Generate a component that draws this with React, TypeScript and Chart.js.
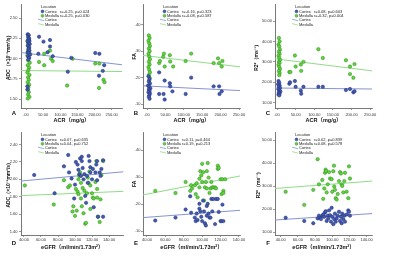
import React, { useEffect, useRef } from "react";
import { Chart, registerables } from "chart.js";
Chart.register(...registerables);

type P = [number, number];

// ---------- tick values ----------
const acrTicks = [0, 50, 100, 150, 200, 250];
const egfrTicks = [40, 60, 80, 100, 120, 140];
const adcTicksA = [1.5, 1.75, 2.0, 2.25, 2.5];
const adcTicksD = [1.4, 1.6, 1.8, 2.0, 2.2, 2.4];
const faTicks = [0.1, 0.2, 0.3, 0.4];
const r2Ticks = [10, 20, 30, 40, 50];

// ---------- labels ----------
const legendTitle = "Location";
const locations = ["Cortex", "Medulla"];
const panelLetters = ["A", "B", "C", "D", "E", "F"];
const xTitleAcr = "ACR（mg/g）";
const xTitleEgfr = "eGFR（ml/min/1.73m²）";
const yTitleAdc = "ADC（×10⁻³mm²/s）";
const yTitleFa = "FA";
const yTitleR2 = "R2*（ms⁻¹）";
const statsA = ["r=-0.25, p=0.024", "r=-0.25, p=0.030"];
const statsB = ["r=-0.16, p=0.323", "r=-0.08, p=0.587"];
const statsC = ["r=0.08, p=0.603", "r=-0.32, p=0.004"];
const statsD = ["r=0.07, p=0.635", "r=0.04, p=0.752"];
const statsE = ["r=0.11, p=0.464", "r=0.19, p=0.213"];
const statsF = ["r=0.02, p=0.839", "r=0.08, p=0.578"];

// ---------- axis domains ----------
const xDomA = [-14.6, 280];
const yDomA = [1.393, 2.667];
const xDomB = [-10.9, 252.7];
const yDomB = [0.085, 0.477];
const xDomC = [-5.4, 255];
const yDomC = [7.4, 58.1];
const xDomD = [36.5, 157];
const yDomD = [1.36, 2.539];
const xDomE = [35.7, 141.1];
const yDomE = [0.0856, 0.465];
const xDomF = [33.4, 146.2];
const yDomF = [8.8, 53.3];

// ---------- fit lines (y at left / right end of x domain) ----------
const fitCortexA = [2.075, 1.925];
const fitMedullaA = [1.854, 1.842];
const fitCortexB = [0.169, 0.151];
const fitMedullaB = [0.284, 0.241];
const fitCortexC = [17.2, 16.7];
const fitMedullaC = [31.5, 25.6];
const fitCortexD = [1.981, 2.087];
const fitMedullaD = [1.813, 1.862];
const fitCortexE = [0.150, 0.177];
const fitMedullaE = [0.234, 0.304];
const fitCortexF = [15.3, 18.1];
const fitMedullaF = [29.0, 32.2];

// ---------- points ----------
const cortexA: P[] = [[5,2.30],[8,2.29],[6,2.27],[9,2.25],[7,2.24],[10,2.22],[5,2.21],[8,2.19],[11,2.18],[6,2.16],[9,2.14],[7,2.12],[10,2.10],[5,2.08],[8,2.07],[12,2.05],[6,2.03],[9,2.01],[7,1.99],[4,1.66],[5,1.62],[38,2.27],[51,2.21],[70,2.23],[70,2.15],[63,2.08],[36,2.06],[78,2.03],[132,2.01],[122,1.84],[202,2.07],[214,2.06],[228,1.92],[224,1.85],[213,1.79]];
const medullaA: P[] = [[4,2.22],[7,2.19],[5,2.16],[9,2.13],[6,2.10],[10,2.07],[4,2.04],[8,2.01],[6,1.98],[11,1.95],[5,1.92],[9,1.89],[7,1.86],[4,1.83],[10,1.80],[6,1.77],[8,1.74],[5,1.71],[9,1.68],[7,1.65],[4,1.62],[8,1.59],[6,1.56],[10,1.53],[5,1.51],[38,1.96],[53,2.06],[70,2.10],[73,2.00],[78,1.97],[53,1.92],[136,2.00],[120,1.67],[202,1.94],[214,1.94],[226,1.74],[229,1.71],[213,1.64]];
const cortexB: P[] = [[4,0.205],[7,0.195],[5,0.185],[8,0.178],[3,0.17],[6,0.165],[9,0.16],[5,0.155],[7,0.15],[4,0.145],[8,0.14],[6,0.133],[5,0.127],[7,0.12],[33,0.22],[48,0.189],[62,0.179],[63,0.167],[69,0.148],[33,0.138],[45,0.138],[48,0.117],[105,0.138],[120,0.20],[181,0.167],[196,0.167],[197,0.138],[203,0.148]];
const medullaB: P[] = [[5,0.36],[7,0.35],[4,0.34],[6,0.33],[8,0.32],[5,0.31],[7,0.30],[4,0.29],[6,0.28],[8,0.27],[5,0.26],[7,0.25],[4,0.24],[6,0.23],[8,0.22],[5,0.21],[7,0.20],[6,0.19],[33,0.255],[35,0.263],[44,0.279],[46,0.291],[48,0.242],[62,0.285],[63,0.261],[71,0.242],[105,0.263],[120,0.291],[181,0.255],[193,0.273],[196,0.255],[203,0.242],[205,0.263]];
const cortexC: P[] = [[4,20.6],[6,19.8],[3,19.0],[7,18.4],[5,17.8],[8,17.2],[4,16.6],[6,16.0],[9,15.5],[5,15.0],[7,14.5],[4,14.0],[6,13.6],[33,19.3],[35,20.0],[48,20.6],[50,17.8],[64,15.9],[65,14.4],[71,17.8],[111,17.8],[123,17.8],[185,16.2],[196,16.7],[205,15.1],[208,15.6]];
const medullaC: P[] = [[5,41.7],[7,40.0],[4,38.5],[6,37.5],[8,36.0],[5,35.0],[7,34.0],[4,33.0],[6,32.0],[8,31.0],[5,30.0],[7,29.5],[4,28.5],[6,27.5],[8,26.5],[5,25.5],[7,24.5],[6,23.5],[33,25.0],[36,25.0],[48,33.1],[50,27.7],[64,28.7],[65,25.6],[71,30.0],[111,36.2],[123,31.9],[185,30.8],[196,27.7],[196,24.0],[208,28.9],[205,22.2]];
const cortexD: P[] = [[52,2.05],[76,1.84],[87,2.15],[92,2.28],[93,2.08],[96,2.01],[99,1.78],[100,1.94],[101,2.20],[103,2.17],[104,2.11],[105,2.06],[106,2.24],[107,2.04],[108,2.26],[108,2.21],[109,2.13],[110,2.00],[111,2.06],[112,1.81],[113,1.73],[114,2.04],[115,1.96],[116,2.27],[117,2.21],[118,2.14],[118,2.08],[120,2.00],[121,2.12],[122,1.68],[124,2.08],[125,2.17],[126,1.99],[126,2.21],[127,1.57],[129,2.08],[130,2.04],[131,2.12],[133,2.22],[133,1.57]];
const medullaD: P[] = [[41,1.93],[75,1.71],[87,1.99],[92,1.91],[94,1.93],[97,1.63],[98,1.69],[100,1.58],[101,1.89],[102,1.64],[103,1.86],[104,2.00],[104,1.83],[105,2.04],[106,2.08],[107,1.96],[107,1.78],[108,1.69],[109,1.90],[110,1.61],[111,1.87],[112,1.49],[113,1.50],[114,1.84],[115,2.02],[116,1.96],[117,2.09],[118,1.93],[118,1.66],[120,1.84],[121,1.79],[122,1.78],[124,1.97],[125,2.21],[126,1.89],[126,1.79],[127,1.57],[129,1.51],[130,1.77],[131,2.05],[133,2.21]];
const cortexE: P[] = [[49,0.139],[71,0.150],[82,0.180],[87,0.229],[88,0.168],[92,0.150],[93,0.137],[94,0.165],[95,0.141],[97,0.183],[97,0.201],[98,0.173],[99,0.153],[100,0.137],[101,0.213],[102,0.173],[103,0.129],[104,0.121],[105,0.157],[105,0.193],[106,0.201],[107,0.165],[108,0.150],[109,0.150],[110,0.219],[111,0.173],[112,0.219],[114,0.126],[115,0.219],[117,0.219],[118,0.171],[120,0.137],[121,0.137],[122,0.198],[123,0.137]];
const medullaE: P[] = [[49,0.249],[71,0.241],[82,0.282],[87,0.249],[88,0.270],[89,0.258],[92,0.270],[93,0.237],[94,0.277],[95,0.225],[97,0.294],[97,0.262],[98,0.322],[99,0.306],[100,0.282],[100,0.349],[101,0.318],[102,0.213],[103,0.262],[104,0.282],[105,0.258],[105,0.322],[106,0.352],[107,0.298],[108,0.241],[109,0.258],[110,0.282],[111,0.262],[112,0.262],[114,0.262],[115,0.258],[117,0.342],[117,0.330],[118,0.334],[120,0.292],[121,0.237],[122,0.292],[123,0.249],[123,0.241],[125,0.292]];
const cortexF: P[] = [[45.8,16.3],[67.4,14.9],[77.9,13.9],[83.0,16.0],[84.5,17.2],[85.7,16.3],[86.9,15.7],[88.4,17.2],[89.5,17.7],[90.7,16.7],[91.5,18.6],[92.3,19.1],[93.5,14.9],[94.7,17.2],[95.4,16.0],[96.3,19.5],[97.4,17.4],[98.5,14.6],[99.3,20.6],[100,16.7],[101.2,13.5],[102.3,15.7],[103.1,18.1],[104,14.6],[105.1,16.0],[106.3,17.2],[107.8,18.9],[109,14.9],[110.1,16.7],[110.9,13.9],[111.6,18.1],[112.8,15.7],[114,17.2],[114.8,14.6],[116.7,17.7],[118.6,19.5],[119.4,18.9],[120.6,17.2]];
const medullaF: P[] = [[45.8,27.6],[67.4,21.9],[77.9,28.4],[83.0,41.7],[84.5,30.8],[88.4,32.7],[89.5,24.5],[90.7,29.0],[91.5,35.8],[92.3,37.2],[92.7,36.5],[93.5,27.3],[94.7,30.8],[96.3,36.1],[97.4,33.3],[99.3,33.0],[100,27.6],[101.2,36.5],[102,38.9],[102.3,29.9],[103.1,28.4],[104,24.8],[105.1,24.2],[106.3,26.6],[107.8,32.2],[109,36.1],[110.1,35.5],[110.9,30.8],[111.6,30.1],[112.8,27.3],[114,32.2],[114.8,35.8],[116.7,27.6],[118.6,24.8],[119.4,38.6],[120.6,33.3]];

// ---------- styles ----------
const FONT = "'Liberation Sans', Arial, 'Noto Sans CJK SC', sans-serif";
const BLUE = "#4459b0";
const BLUE_EDGE = "#1f2f78";
const GREEN = "#5fd43c";
const GREEN_EDGE = "#2c8a1c";
const BLUE_LINE = "#8494d4";
const GREEN_LINE = "#8fdc86";
const AXIS = "#555";

const fmt = (v: number) => {
  const s = v.toFixed(2);
  return s.startsWith("0.") ? s.slice(1) : s;
};

const decorPlugin = {
  id: "decor",
  afterDraw(chart: any, _a: any, opts: any) {
    const ctx = chart.ctx;
    const a = chart.chartArea;
    ctx.save();
    ctx.fillStyle = "#111";
    ctx.font = `bold 6px ${FONT}`;
    ctx.textAlign = "center";
    ctx.textBaseline = "middle";
    ctx.fillText(opts.letter, a.left - 7, a.bottom + opts.letterDy);

    const lx = a.left + 20;
    const ty = a.top + 2.5;
    const sp = 4.4;
    ctx.font = `4px ${FONT}`;
    ctx.textAlign = "left";
    ctx.fillStyle = "#222";
    ctx.fillText(legendTitle, lx, ty);
    const fills = [BLUE, GREEN];
    const edges = [BLUE_EDGE, GREEN_EDGE];
    const lines = [BLUE_LINE, GREEN_LINE];
    for (let i = 0; i < 2; i++) {
      const y = ty + sp * (i + 1);
      ctx.beginPath();
      ctx.arc(lx + 1.5, y, 1.4, 0, Math.PI * 2);
      ctx.fillStyle = fills[i];
      ctx.fill();
      ctx.lineWidth = 0.5;
      ctx.strokeStyle = edges[i];
      ctx.stroke();
      ctx.fillStyle = "#222";
      ctx.fillText(locations[i], lx + 4, y);
      ctx.fillText(opts.stats[i], lx + 19, y);
    }
    for (let i = 0; i < 2; i++) {
      const y = ty + sp * (i + 3);
      ctx.beginPath();
      ctx.moveTo(lx - 3, y - 1);
      ctx.lineTo(lx + 3, y + 0.5);
      ctx.lineWidth = 0.8;
      ctx.strokeStyle = lines[i];
      ctx.stroke();
      ctx.fillStyle = "#222";
      ctx.fillText(locations[i], lx + 4, y);
    }
    ctx.restore();
  },
};

type Cfg = {
  left: number; top: number; w: number; h: number;
  axisW: number; padRight: number; padTop: number; xAxisH: number;
  xDom: number[]; yDom: number[]; xTicks: number[]; yTicks: number[];
  xTitle: string; yTitle: string; yTitlePad: number; yTickPad: number;
  xTickPad: number; xTitlePad: number;
  cortex: P[]; medulla: P[]; fitC: number[]; fitM: number[];
  stats: string[]; letter: string; letterDy: number;
};

function Panel({ c }: { c: Cfg }) {
  const ref = useRef<HTMLCanvasElement>(null);
  useEffect(() => {
    if (!ref.current) return;
    const pts = (arr: P[]) => arr.map(([x, y]) => ({ x, y }));
    const fit = (f: number[]) => [
      { x: c.xDom[0], y: f[0] },
      { x: c.xDom[1], y: f[1] },
    ];
    const chart = new Chart(ref.current, {
      type: "scatter",
      data: {
        datasets: [
          { label: "fitC", data: fit(c.fitC), showLine: true, borderColor: BLUE_LINE, borderWidth: 1, pointRadius: 0, order: 3 },
          { label: "fitM", data: fit(c.fitM), showLine: true, borderColor: GREEN_LINE, borderWidth: 1, pointRadius: 0, order: 3 },
          { label: locations[1], data: pts(c.medulla), backgroundColor: GREEN, borderColor: GREEN_EDGE, borderWidth: 0.5, pointRadius: 1.7, order: 2 },
          { label: locations[0], data: pts(c.cortex), backgroundColor: BLUE, borderColor: BLUE_EDGE, borderWidth: 0.5, pointRadius: 1.7, order: 1 },
        ],
      },
      options: {
        responsive: false,
        animation: false,
        devicePixelRatio: 1,
        layout: { padding: { top: c.padTop, right: c.padRight, left: 0, bottom: 0 } },
        plugins: {
          legend: { display: false },
          tooltip: { enabled: false },
          // @ts-ignore
          decor: { letter: c.letter, letterDy: c.letterDy, stats: c.stats },
        },
        scales: {
          x: {
            type: "linear",
            min: c.xDom[0],
            max: c.xDom[1],
            afterBuildTicks: (s: any) => { s.ticks = c.xTicks.map((v) => ({ value: v })); },
            afterFit: (s: any) => { s.height = c.xAxisH; s.paddingLeft = 0; s.paddingRight = 0; },
            ticks: { callback: (v: any) => fmt(Number(v)), font: { size: 4, family: FONT }, color: "#333", padding: c.xTickPad, maxRotation: 0, autoSkip: false },
            grid: { drawOnChartArea: false, drawTicks: true, tickLength: 2, color: AXIS, lineWidth: 0.6 },
            border: { display: true, color: AXIS, width: 0.8 },
            title: { display: true, text: c.xTitle, font: { size: 5.5, weight: "bold", family: FONT }, color: "#111", padding: { top: 0, bottom: c.xTitlePad } },
          },
          y: {
            type: "linear",
            min: c.yDom[0],
            max: c.yDom[1],
            afterBuildTicks: (s: any) => { s.ticks = c.yTicks.map((v) => ({ value: v })); },
            afterFit: (s: any) => { s.width = c.axisW; s.paddingTop = 0; s.paddingBottom = 0; },
            ticks: { callback: (v: any) => fmt(Number(v)), font: { size: 4, family: FONT }, color: "#333", padding: c.yTickPad, autoSkip: false },
            grid: { drawOnChartArea: false, drawTicks: true, tickLength: 2, color: AXIS, lineWidth: 0.6 },
            border: { display: true, color: AXIS, width: 0.8 },
            title: { display: true, text: c.yTitle, font: { size: 5, weight: "bold", family: FONT }, color: "#111", padding: { top: c.yTitlePad, bottom: 0 } },
          },
        },
      },
      plugins: [decorPlugin as any],
    } as any);
    return () => chart.destroy();
  }, []);
  return (
    <canvas
      ref={ref}
      width={c.w}
      height={c.h}
      style={{ position: "absolute", left: c.left, top: c.top, width: c.w, height: c.h }}
    />
  );
}

const cols = [
  { left: 0, w: 128, axisW: 21, yTickPad: 1.5, yTitlePad: 6 },
  { left: 128, w: 124, axisW: 15, yTickPad: 0.5, yTitlePad: 4 },
  { left: 252, w: 148, axisW: 23, yTickPad: 1, yTitlePad: 2 },
];
const rows = [
  { top: 0, h: 128, padTop: 1, xAxisH: 20, xTickPad: 2.5, xTitlePad: 4.7, letterDy: 5 },
  { top: 128, h: 131, padTop: 2, xAxisH: 24, xTickPad: 0.8, xTitlePad: 8.7, letterDy: 8 },
];
const plotRights = [[122, 240, 372], [124, 240, 372]];

const panelData = [
  { xDom: xDomA, yDom: yDomA, xTicks: acrTicks, yTicks: adcTicksA, xTitle: xTitleAcr, yTitle: yTitleAdc, cortex: cortexA, medulla: medullaA, fitC: fitCortexA, fitM: fitMedullaA, stats: statsA },
  { xDom: xDomB, yDom: yDomB, xTicks: acrTicks, yTicks: faTicks, xTitle: xTitleAcr, yTitle: yTitleFa, cortex: cortexB, medulla: medullaB, fitC: fitCortexB, fitM: fitMedullaB, stats: statsB },
  { xDom: xDomC, yDom: yDomC, xTicks: acrTicks, yTicks: r2Ticks, xTitle: xTitleAcr, yTitle: yTitleR2, cortex: cortexC, medulla: medullaC, fitC: fitCortexC, fitM: fitMedullaC, stats: statsC },
  { xDom: xDomD, yDom: yDomD, xTicks: egfrTicks, yTicks: adcTicksD, xTitle: xTitleEgfr, yTitle: yTitleAdc, cortex: cortexD, medulla: medullaD, fitC: fitCortexD, fitM: fitMedullaD, stats: statsD },
  { xDom: xDomE, yDom: yDomE, xTicks: egfrTicks, yTicks: faTicks, xTitle: xTitleEgfr, yTitle: yTitleFa, cortex: cortexE, medulla: medullaE, fitC: fitCortexE, fitM: fitMedullaE, stats: statsE },
  { xDom: xDomF, yDom: yDomF, xTicks: egfrTicks, yTicks: r2Ticks, xTitle: xTitleEgfr, yTitle: yTitleR2, cortex: cortexF, medulla: medullaF, fitC: fitCortexF, fitM: fitMedullaF, stats: statsF },
];

export default function App() {
  const cfgs: Cfg[] = panelData.map((d, i) => {
    const r = rows[Math.floor(i / 3)];
    const col = cols[i % 3];
    const pr = plotRights[Math.floor(i / 3)][i % 3];
    return {
      ...d,
      left: col.left, top: r.top, w: col.w, h: r.h,
      axisW: col.axisW, padRight: col.w - (pr - col.left), padTop: r.padTop, xAxisH: r.xAxisH,
      yTitlePad: i === 5 ? 4 : col.yTitlePad, yTickPad: col.yTickPad,
      xTickPad: r.xTickPad, xTitlePad: r.xTitlePad,
      letter: panelLetters[i], letterDy: r.letterDy,
    };
  });
  return (
    <div style={{ position: "fixed", left: 0, top: 0, width: 400, height: 259, background: "#fff", overflow: "hidden" }}>
      {cfgs.map((c, i) => <Panel key={i} c={c} />)}
    </div>
  );
}
